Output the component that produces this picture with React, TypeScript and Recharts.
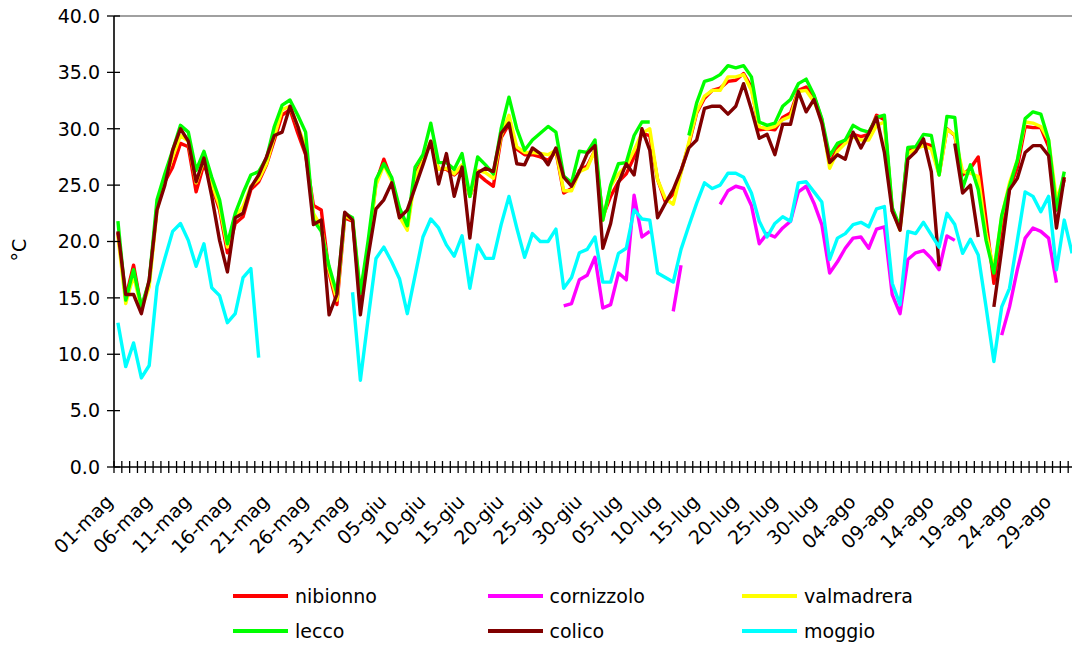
import React from 'react';
import { LineChart, Line, XAxis, YAxis, ReferenceLine } from 'recharts';

const _ = null;

const MONTHS: [string, number][] = [['mag', 31], ['giu', 30], ['lug', 31], ['ago', 31]];
const DAYS: string[] = MONTHS.flatMap(([m, n]) =>
  Array.from({ length: n }, (_x, i) => `${String(i + 1).padStart(2, '0')}-${m}`)
);

const Y_TICKS = [0, 5, 10, 15, 20, 25, 30, 35, 40];

const nibionno = [
  20.8, 15.0, 17.9, 14.1, 16.3, 23.1, 25.3, 26.6, 28.7, 28.4,
  24.4, 26.9, 24.9, 22.8, 19.0, 21.6, 22.2, 24.6, 25.3, 26.8,
  29.0, 31.2, 31.7, 29.6, 27.7, 23.2, 22.8, 17.2, 14.4, 22.1,
  21.8, 14.8, 19.5, 25.2, 27.3, 25.5, 22.4, 21.3, 26.0, 27.2,
  28.8, 26.4, 26.4, 25.9, 26.5, 24.0, 26.0, 25.4, 24.9, 29.2,
  30.4, 28.2, 27.7, 27.7, 27.5, 27.2, 28.0, 24.3, 24.7, 26.3,
  26.7, 28.1, 22.2, 24.0, 25.3, 26.0, 27.5, 29.6, 29.4, 25.5,
  23.5, 24.2, 26.2, 28.6, 31.4, 32.7, 33.4, 33.6, 34.2, 34.3,
  34.9, 33.7, 29.9, 30.0, 29.9, 31.0, 31.4, 33.4, 33.7, 32.9,
  30.8, 26.9, 28.3, 29.0, 29.5, 29.3, 29.5, 31.2, 30.8, 22.7,
  21.3, 28.1, 28.3, 28.7, 28.5, 26.0, 30.0, 29.4, 25.9, 26.5,
  27.5, 21.9, 16.3, 21.3, 24.6, 26.6, 30.2, 30.1, 30.1, 28.4,
  22.8, 25.5, _,
];

const cornizzolo = [
  _, _, _, _, _, _, _, _, _, _,
  _, _, _, _, _, _, _, _, _, _,
  _, _, _, _, _, _, _, _, _, _,
  _, _, _, _, _, _, _, _, _, _,
  _, _, _, _, _, _, _, _, _, _,
  _, _, _, _, _, _, _, 14.3, 14.5, 16.6,
  17.0, 18.6, 14.1, 14.4, 17.2, 16.6, 24.1, 20.4, 20.9, _,
  _, 13.8, 17.9, _, _, _, _, 23.3, 24.5, 24.9,
  24.7, 23.2, 19.8, 20.7, 20.4, 21.2, 21.8, 24.4, 24.9, 23.4,
  21.5, 17.2, 18.2, 19.4, 20.3, 20.4, 19.4, 21.1, 21.3, 15.3,
  13.6, 18.4, 19.0, 19.2, 18.5, 17.5, 20.5, 20.1, _, _,
  _, _, _, 11.7, 14.2, 17.5, 20.3, 21.2, 20.9, 20.3,
  16.35, _, _,
];

const valmadrera = [
  20.5, 14.5, 17.0, 14.0, 16.0, 22.8, 25.5, 27.5, 29.4, 28.9,
  25.2, 27.2, 25.2, 23.1, 19.5, 22.2, 23.1, 24.9, 25.5, 26.9,
  29.3, 31.7, 32.0, 30.2, 28.4, 22.5, 21.3, 17.5, 14.8, 22.3,
  21.9, 15.4, 19.5, 25.0, 26.8, 25.4, 22.2, 21.0, 25.7, 27.1,
  28.9, 26.4, 26.5, 26.0, 26.8, 24.0, 26.3, 26.1, 25.6, 29.4,
  31.2, 28.4, 27.9, 27.9, 27.8, 27.7, 28.1, 24.5, 24.5, 26.2,
  26.5, 28.1, 21.9, 24.9, 26.0, 26.7, 28.1, 29.6, 30.0, 25.5,
  23.8, 23.3, 26.1, 28.8, 31.5, 32.9, 33.4, 33.4, 34.6, 34.6,
  34.8, 33.4, 30.2, 30.0, 30.2, 30.8, 31.1, 33.3, 33.4, 32.4,
  30.8, 26.5, 28.0, 28.7, 29.3, 29.0, 29.0, 30.3, 30.6, 22.9,
  21.0, 27.8, 28.2, 28.5, 28.2, 25.9, 29.95, 29.45, 26.2, 26.05,
  25.75, 20.7, 17.5, 22.2, 25.2, 27.2, 30.6, 30.5, 30.2, 29.0,
  23.7, 25.75, _,
];

const lecco = [
  21.8, 14.8, 17.5, 14.2, 16.5, 23.7, 26.0, 28.1, 30.3, 29.7,
  26.3, 28.0, 25.7, 23.7, 19.8, 22.5, 24.3, 25.9, 26.2, 27.4,
  30.2, 32.1, 32.55, 31.2, 29.7, 21.9, 20.9, 17.8, 15.4, 22.5,
  22.1, 15.4, 20.1, 25.5, 26.9, 25.7, 23.0, 21.4, 26.6, 27.7,
  30.5, 27.0, 27.0, 26.4, 27.8, 24.0, 27.5, 26.8, 26.0, 30.0,
  32.8, 30.0, 28.1, 29.0, 29.6, 30.2, 29.7, 25.8, 25.2, 28.0,
  27.9, 29.0, 21.9, 25.0, 26.9, 27.0, 29.4, 30.6, 30.6, _,
  _, _, _, 29.4, 32.3, 34.2, 34.4, 34.8, 35.6, 35.4,
  35.6, 34.6, 30.6, 30.3, 30.5, 32.0, 32.6, 34.0, 34.4, 33.0,
  30.9, 27.6, 28.7, 29.0, 30.3, 29.9, 29.7, 31.0, 31.2, 23.0,
  21.3, 28.35, 28.4, 29.5, 29.4, 25.9, 31.1, 31.0, 24.7, 26.8,
  24.6, 20.1, 17.2, 22.3, 24.9, 27.2, 30.9, 31.5, 31.3, 29.0,
  22.8, 26.2, _,
];

const colico = [
  20.9, 15.3, 15.3, 13.6, 16.6, 22.8, 25.0, 28.1, 30.0, 28.9,
  25.3, 27.4, 24.0, 20.1, 17.3, 22.1, 22.5, 24.8, 25.9, 27.5,
  29.4, 29.7, 32.0, 30.2, 27.8, 21.5, 21.9, 13.5, 15.3, 22.6,
  21.9, 13.5, 18.7, 22.9, 23.7, 25.2, 22.1, 22.8, 24.8, 26.8,
  28.9, 25.1, 27.8, 24.0, 26.6, 20.3, 26.1, 26.5, 26.2, 29.6,
  30.5, 26.9, 26.8, 28.3, 27.8, 26.8, 28.3, 25.7, 24.9, 26.2,
  27.8, 28.5, 19.4, 21.6, 25.2, 26.9, 25.9, 30.0, 28.1, 22.1,
  23.4, 24.6, 26.3, 28.3, 29.0, 31.8, 32.0, 32.0, 31.3, 32.0,
  34.0, 31.7, 29.15, 29.5, 27.7, 30.4, 30.4, 33.3, 31.5, 32.6,
  30.5, 27.0, 27.7, 27.3, 29.7, 28.3, 29.6, 31.0, 27.9, 22.7,
  21.0, 27.3, 27.95, 29.1, 26.2, 17.8, _, 28.7, 24.3, 25.0,
  20.4, _, 14.2, 19.3, 24.6, 25.6, 27.9, 28.5, 28.5, 27.6,
  21.2, 25.7, _,
];

const moggio = [
  12.8, 8.9, 11.0, 7.9, 9.0, 16.0, 18.5, 20.9, 21.6, 20.1,
  17.8, 19.8, 15.9, 15.2, 12.8, 13.6, 16.8, 17.6, 9.7, _,
  _, _, _, _, _, _, _, _, _, _,
  15.5, 7.7, 13.2, 18.5, 19.5, 18.2, 16.7, 13.6, 17.0, 20.4,
  22.0, 21.2, 19.7, 18.7, 20.5, 15.85, 19.7, 18.5, 18.5, 21.5,
  24.0, 21.2, 18.6, 20.7, 20.0, 20.0, 21.1, 15.85, 16.8, 19.0,
  19.3, 20.4, 16.4, 16.4, 18.95, 19.4, 22.8, 22.0, 21.9, 17.2,
  16.8, 16.4, 19.3, 21.4, 23.4, 25.2, 24.7, 25.0, 26.05, 26.05,
  25.7, 24.3, 21.8, 20.4, 21.6, 22.2, 21.8, 25.2, 25.3, 24.4,
  23.5, 18.4, 20.3, 20.7, 21.5, 21.7, 21.3, 22.9, 23.1, 16.3,
  14.4, 20.9, 20.7, 21.7, 20.6, 19.5, 22.5, 21.5, 18.95, 20.2,
  18.8, 14.2, 9.35, 14.2, 15.85, 20.1, 24.4, 24.0, 22.65, 24.0,
  17.5, 21.9, 18.95,
];

const SERIES = [
  { key: 'nibionno', color: '#FF0000', values: nibionno },
  { key: 'cornizzolo', color: '#FF00FF', values: cornizzolo },
  { key: 'valmadrera', color: '#FFFF00', values: valmadrera },
  { key: 'lecco', color: '#00FF00', values: lecco },
  { key: 'colico', color: '#800000', values: colico },
  { key: 'moggio', color: '#00FFFF', values: moggio },
];

const data = DAYS.map((day, i) => {
  const row: Record<string, string | number | null> = { day };
  SERIES.forEach((s) => {
    row[s.key] = s.values[i];
  });
  return row;
});

const FONT = '"DejaVu Sans", Verdana, sans-serif';
const FS = 19;
const PAGE_W = 1072;
const PAGE_H = 645;
const CHART_W = 1088;
const CHART_H = PAGE_H;
const PLOT_LEFT = 114;
const PLOT_TOP = 16;
const PLOT_BOTTOM = 467;
const PLOT_RIGHT = 1076;
const BAND = (PLOT_RIGHT - PLOT_LEFT) / DAYS.length;

const XTick = (props: any) => {
  const { x, index, payload } = props;
  const bx = x - BAND / 2;
  const lx = x - 4;
  const ly = PLOT_BOTTOM + 36;
  return (
    <g>
      <line x1={bx} x2={bx} y1={PLOT_BOTTOM - 6} y2={PLOT_BOTTOM + 6} stroke="#000" strokeWidth={1.3} />
      {index % 5 === 0 && (
        <text
          x={lx}
          y={ly}
          transform={`rotate(-45 ${lx} ${ly})`}
          textAnchor="end"
          fontFamily={FONT}
          fontSize={FS}
          fill="#000"
        >
          {payload.value}
        </text>
      )}
    </g>
  );
};

const YTick = (props: any) => {
  const { y, payload } = props;
  return (
    <g>
      <line x1={PLOT_LEFT - 7} x2={PLOT_LEFT + 6} y1={y} y2={y} stroke="#000" strokeWidth={1.3} />
      <text x={PLOT_LEFT - 14} y={y} dy="0.36em" textAnchor="end" fontFamily={FONT} fontSize={FS} fill="#000">
        {Number(payload.value).toFixed(1)}
      </text>
    </g>
  );
};

export default function App() {
  return (
    <div style={{ position: 'relative', width: PAGE_W, height: PAGE_H, overflow: 'hidden', background: '#fff' }}>
      <style>{'html,body{margin:0;padding:0;overflow:hidden;background:#fff;}'}</style>
      <LineChart
        width={CHART_W}
        height={CHART_H}
        data={data}
        style={{ overflow: 'visible' }}
        margin={{ top: PLOT_TOP, right: CHART_W - PLOT_RIGHT, bottom: CHART_H - PLOT_BOTTOM - 30, left: 8 }}
      >
        <ReferenceLine y={40} stroke="#808080" strokeWidth={1.6} ifOverflow="visible" />
        <XAxis
          dataKey="day"
          interval={0}
          tickLine={false}
          axisLine={{ stroke: '#000', strokeWidth: 1.6 }}
          padding={{ left: BAND / 2, right: BAND / 2 }}
          height={30}
          tick={(p: any) => <XTick {...p} />}
        />
        <YAxis
          type="number"
          domain={[0, 40]}
          ticks={Y_TICKS}
          interval={0}
          width={PLOT_LEFT - 8}
          tickLine={false}
          axisLine={{ stroke: '#000', strokeWidth: 1.6 }}
          tick={(p: any) => <YTick {...p} />}
        />
        {SERIES.map((s) => (
          <Line
            key={s.key}
            type="linear"
            dataKey={s.key}
            stroke={s.color}
            strokeWidth={3.4}
            dot={false}
            activeDot={false}
            connectNulls={false}
            strokeLinejoin="round"
            isAnimationActive={false}
          />
        ))}
      </LineChart>
      <div
        style={{
          position: 'absolute',
          left: 19,
          top: 250,
          transform: 'translate(-50%, -50%) rotate(-90deg)',
          transformOrigin: 'center',
          fontFamily: FONT,
          fontSize: FS,
          color: '#000',
          whiteSpace: 'nowrap',
        }}
      >
        °C
      </div>
      {SERIES.map((s, k) => {
        const col = k % 3;
        const row = Math.floor(k / 3);
        const left = 233 + col * 254.5;
        const cy = 596 + row * 35;
        return (
          <div key={s.key}>
            <div
              style={{ position: 'absolute', left, top: cy - 2, width: 55, height: 4, background: s.color }}
            />
            <div
              style={{
                position: 'absolute',
                left: left + 62,
                top: cy - 13,
                height: 26,
                lineHeight: '26px',
                fontFamily: FONT,
                fontSize: FS,
                color: '#000',
                whiteSpace: 'nowrap',
              }}
            >
              {s.key}
            </div>
          </div>
        );
      })}
    </div>
  );
}
